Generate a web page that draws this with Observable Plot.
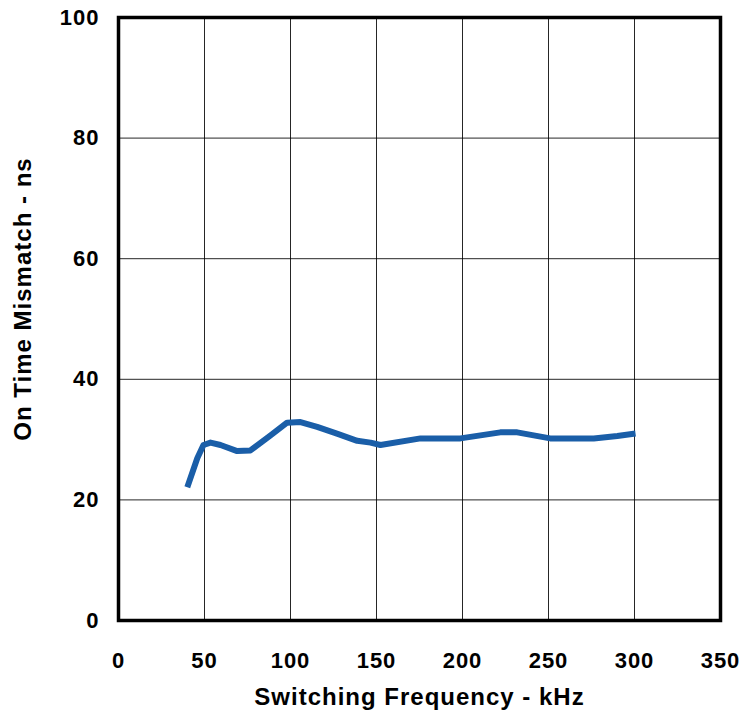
<!DOCTYPE html>
<html>
<head>
<meta charset="utf-8">
<script src="https://cdn.jsdelivr.net/npm/d3@7"></script>
<script src="https://cdn.jsdelivr.net/npm/@observablehq/plot@0.6"></script>
<style>
  html, body { margin: 0; padding: 0; background: #fff; }
  #chart { width: 743px; height: 721px; }
  svg { font-family: "Liberation Sans", Arial, sans-serif; }
  svg g[aria-label="x-axis tick label"], svg g[aria-label="y-axis tick label"] { letter-spacing: 1px; }
  svg g[aria-label="text"] { letter-spacing: 1px; }
</style>
</head>
<body>
<div id="chart"></div>
<script>
const freq = [40, 45.8, 49.4, 53.5, 59.3, 69, 76.7, 88.4, 98, 105.8, 115.5, 127, 138.8, 146.5, 152.3, 175.6, 198.8, 222, 231.8, 251, 276.3, 290, 300.6];
const mismatch = [22.1, 26.9, 29.1, 29.5, 29.1, 28.1, 28.2, 30.7, 32.8, 32.9, 32.1, 31, 29.8, 29.5, 29.1, 30.2, 30.2, 31.2, 31.2, 30.2, 30.2, 30.6, 31];
const xTicks = [0, 50, 100, 150, 200, 250, 300, 350];
const yTicks = [0, 20, 40, 60, 80, 100];
const xLabel = "Switching Frequency - kHz";
const yLabel = "On Time Mismatch - ns";

const data = freq.map((f, i) => ({f, m: mismatch[i]}));

const chart = Plot.plot({
  width: 743,
  height: 721,
  marginLeft: 118,
  marginRight: 23,
  marginTop: 17,
  marginBottom: 101,
  style: {fontFamily: "'Liberation Sans', Arial, sans-serif", background: "#fff"},
  x: {domain: [0, 350], ticks: xTicks, label: null},
  y: {domain: [0, 100], ticks: yTicks, label: null},
  marks: [
    Plot.gridX(xTicks, {stroke: "#000", strokeOpacity: 0.85, strokeWidth: 1}),
    Plot.gridY(yTicks, {stroke: "#000", strokeOpacity: 0.85, strokeWidth: 1}),
    Plot.frame({stroke: "#000", strokeWidth: 3.5}),
    Plot.axisX(xTicks, {tickSize: 0, tickPadding: 32, fontSize: 22, fontWeight: "bold", fill: "#000", label: null}),
    Plot.axisY(yTicks, {tickSize: 0, tickPadding: 19, fontSize: 22, fontWeight: "bold", fill: "#000", label: null}),
    Plot.line(data, {x: "f", y: "m", stroke: "#1a5ea8", strokeWidth: 6, strokeLinejoin: "round", strokeLinecap: "butt"}),
    Plot.text([xLabel], {frameAnchor: "bottom", dy: 84, text: d => d, fontSize: 24, fontWeight: "bold", fill: "#000", textAnchor: "middle"}),
    Plot.text([yLabel], {frameAnchor: "left", dx: -95, dy: -20, rotate: -90, text: d => d, fontSize: 24, fontWeight: "bold", fill: "#000", textAnchor: "middle"})
  ]
});
document.getElementById("chart").appendChild(chart);
</script>
</body>
</html>
